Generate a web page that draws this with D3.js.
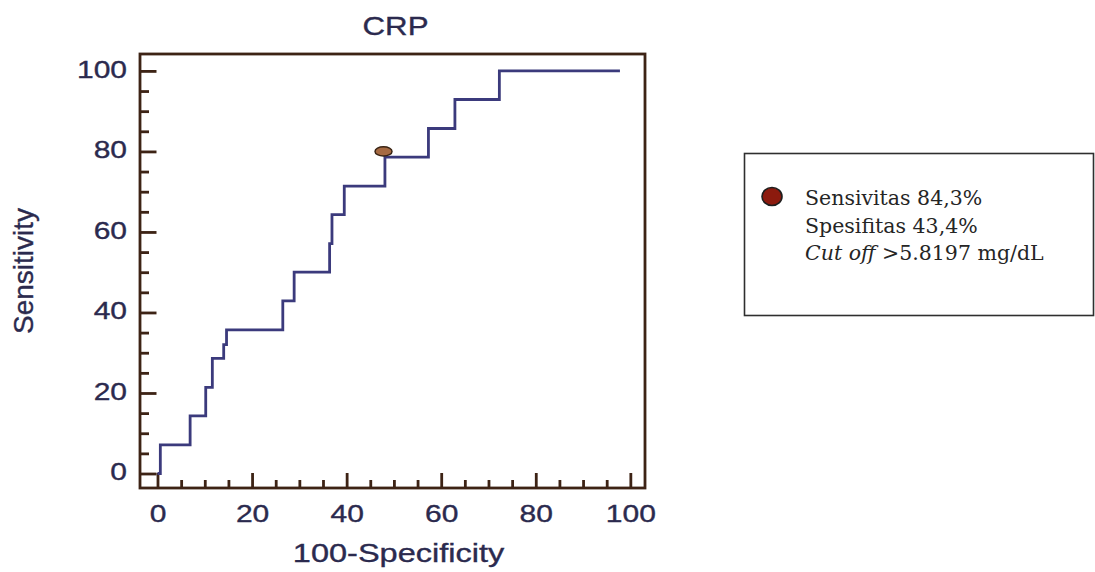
<!DOCTYPE html>
<html>
<head>
<meta charset="utf-8">
<script src="https://cdn.jsdelivr.net/npm/d3@7"></script>
<style>
  body { margin: 0; background: #ffffff; }
  .axis-text { font-family: "Liberation Sans", Arial, sans-serif; fill: #2b2a4e; stroke: #2b2a4e; stroke-width: 0.35; }
</style>
</head>
<body>
<div id="roc"></div>
<script>

// ROC staircase (100-Specificity, Sensitivity)
var fpr = [0, 0.6, 0.6, 6.9, 6.9, 10.2, 10.2, 11.6, 11.6, 14.0, 14.0, 14.6, 14.6, 26.5, 26.5, 28.9, 28.9,
    36.4, 36.4, 36.9, 36.9, 39.5, 39.5, 48.1, 48.1, 57.3, 57.3, 62.9, 62.9, 72.3, 72.3, 97.8];
var tpr = [0, 0, 7.1, 7.1, 14.3, 14.3, 21.4, 21.4, 28.6, 28.6, 32, 32, 35.7, 35.7, 42.9, 42.9, 50,
    50, 57.1, 57.1, 64.3, 64.3, 71.4, 71.4, 78.6, 78.6, 85.7, 85.7, 92.9, 92.9, 100, 100];

// Optimal cut-off point
var cutPoint = [47.8, 80];

var majorTicks = [0, 20, 40, 60, 80, 100];
var minorTicks = [5, 10, 15, 25, 30, 35, 45, 50, 55, 65, 70, 75, 85, 90, 95];

var legendLines = ["Sensivitas 84,3%", "Spesifitas 43,4%", ">5.8197 mg/dL"];

// Set up chart
var svgWidth = 1095;
var svgHeight = 572;
var frame = {left: 140, right: 645, top: 54, bottom: 488};
var frameColor = "#3d2315";
var stretch = 1.25;

var svg = d3.select("#roc")
    .append("svg")
    .attr("width", svgWidth)
    .attr("height", svgHeight);

var xScale = d3.scaleLinear()
    .domain([-3.7, 103.1])
    .range([frame.left, frame.right]);

var yScale = d3.scaleLinear()
    .domain([-3.6, 104.2])
    .range([frame.bottom, frame.top]);

// Axes with inward ticks
function styleAxis(g) {
    g.select(".domain").remove();
    g.selectAll("line").attr("stroke", frameColor).attr("stroke-width", 2.8);
}

svg.append("g")
    .attr("transform", `translate(${frame.left},0)`)
    .call(d3.axisLeft(yScale).tickValues(minorTicks).tickSize(-9).tickFormat(""))
    .call(styleAxis);

svg.append("g")
    .attr("transform", `translate(0,${frame.bottom})`)
    .call(d3.axisBottom(xScale).tickValues(minorTicks).tickSize(-8).tickFormat(""))
    .call(styleAxis);

var yAxis = svg.append("g")
    .attr("transform", `translate(${frame.left},0)`)
    .call(d3.axisLeft(yScale).tickValues(majorTicks).tickSize(-16.5).tickPadding(10.4))
    .call(styleAxis);

yAxis.selectAll("text")
    .attr("class", "axis-text")
    .attr("font-size", 24)
    .attr("dy", "0.27em")
    .attr("transform", `scale(${stretch},1)`);

var xAxis = svg.append("g")
    .attr("transform", `translate(0,${frame.bottom})`)
    .call(d3.axisBottom(xScale).tickValues(majorTicks).tickSize(-15).tickPadding(16.5))
    .call(styleAxis);

xAxis.selectAll("text")
    .attr("class", "axis-text")
    .attr("font-size", 24)
    .attr("transform", `scale(${stretch},1)`);

// ROC line
var line = d3.line()
    .x(d => xScale(d[0]))
    .y(d => yScale(d[1]));

svg.append("path")
    .datum(d3.zip(fpr, tpr))
    .attr("d", line)
    .attr("fill", "none")
    .attr("stroke", "#3b3a7c")
    .attr("stroke-width", 2.8);

// Cut-off marker
svg.append("ellipse")
    .attr("cx", xScale(cutPoint[0]))
    .attr("cy", yScale(cutPoint[1]))
    .attr("rx", 8.5)
    .attr("ry", 4.6)
    .attr("fill", "#a66a42")
    .attr("stroke", "#3a2414")
    .attr("stroke-width", 1.5);

// Frame
svg.append("rect")
    .attr("x", frame.left)
    .attr("y", frame.top)
    .attr("width", frame.right - frame.left)
    .attr("height", frame.bottom - frame.top)
    .attr("fill", "none")
    .attr("stroke", frameColor)
    .attr("stroke-width", 2.8);

// Title and axis labels
var midX = (frame.left + frame.right) / 2;

svg.append("text")
    .attr("class", "axis-text")
    .attr("transform", `translate(${midX + 3},35) scale(${stretch},1)`)
    .attr("text-anchor", "middle")
    .attr("font-size", 25)
    .text("CRP");

svg.append("text")
    .attr("class", "axis-text")
    .attr("transform", `translate(${midX + 6},562) scale(1.3,1)`)
    .attr("text-anchor", "middle")
    .attr("font-size", 25)
    .text("100-Specificity");

svg.append("text")
    .attr("class", "axis-text")
    .attr("transform", `translate(33,${(frame.top + frame.bottom) / 2}) rotate(-90)`)
    .attr("text-anchor", "middle")
    .attr("font-size", 28)
    .text("Sensitivity");

// Legend box
var legend = svg.append("g");

legend.append("rect")
    .attr("x", 744.5)
    .attr("y", 153.5)
    .attr("width", 349)
    .attr("height", 162)
    .attr("fill", "#ffffff")
    .attr("stroke", "#2f2f2f")
    .attr("stroke-width", 1.6);

legend.append("ellipse")
    .attr("cx", 772)
    .attr("cy", 196.5)
    .attr("rx", 10)
    .attr("ry", 9)
    .attr("fill", "#8c1a0e")
    .attr("stroke", "#1e1e1e")
    .attr("stroke-width", 1.6);

var legendText = legend.selectAll(".legend-line")
    .data(legendLines)
    .enter()
    .append("text")
    .attr("class", "legend-line")
    .attr("x", 805)
    .attr("y", (d, i) => 205 + i * 27.5)
    .attr("font-family", "'DejaVu Serif', Georgia, serif")
    .attr("font-size", 20.5)
    .attr("fill", "#252525");

legendText.filter((d, i) => i < 2).text(d => d);

var lastLine = legendText.filter((d, i) => i === 2);
lastLine.append("tspan").attr("font-style", "italic").text("Cut off ");
lastLine.append("tspan").text(d => d);

</script>
</body>
</html>
